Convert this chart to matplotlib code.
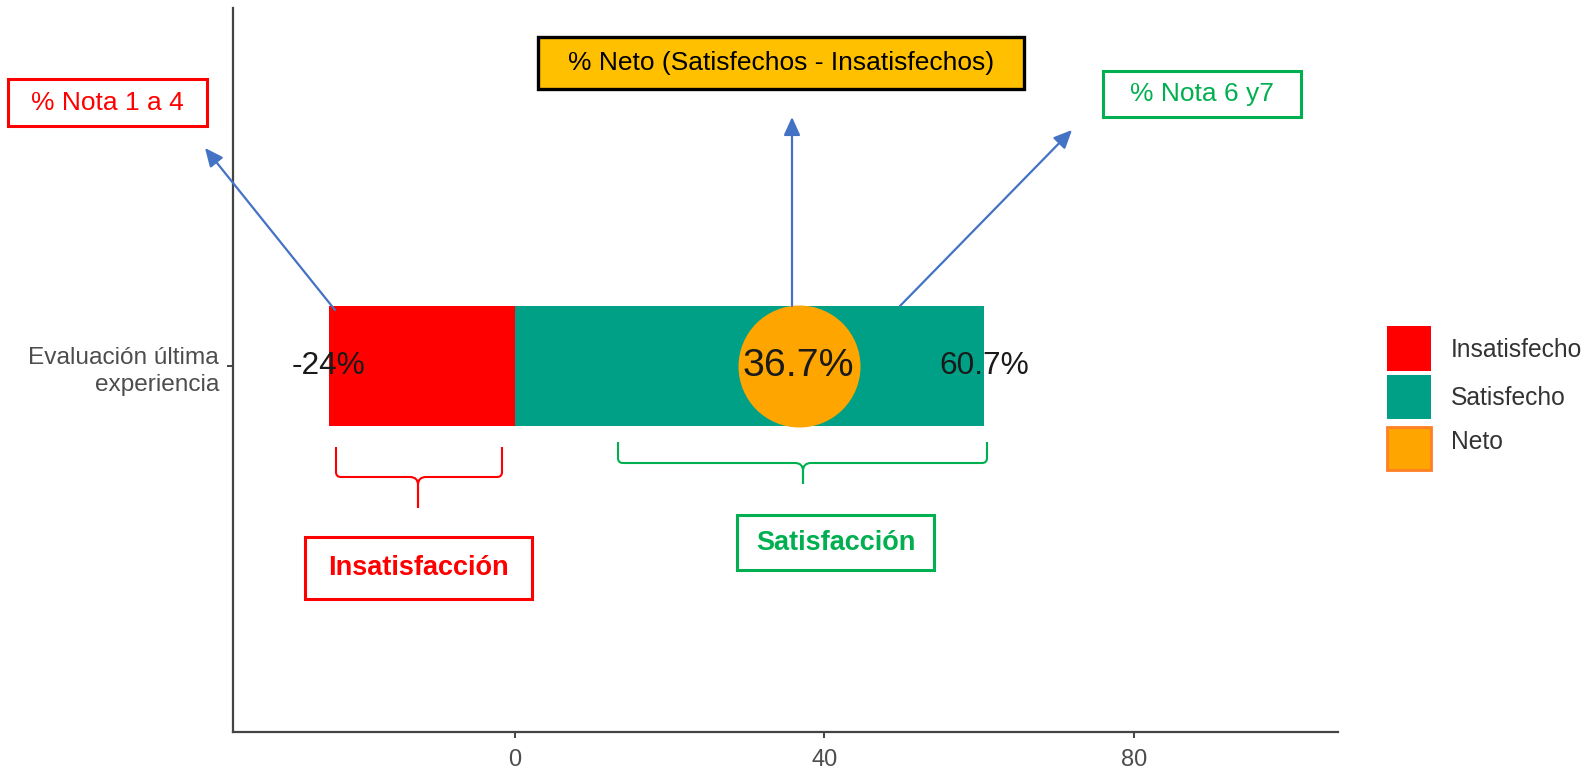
import matplotlib
matplotlib.use("Agg")
import matplotlib.pyplot as plt
from matplotlib.transforms import Affine2D
from matplotlib.patches import Rectangle, FancyArrowPatch, PathPatch
from matplotlib.path import Path

# ---- data ----
category = ["Evaluación última\nexperiencia"]
insatisfecho = [-24.0]
satisfecho = [60.7]
neto = [36.7]
legend_labels = ["Insatisfecho", "Satisfecho", "Neto"]
x_ticks = [0, 40, 80]

RED = "#FF0000"
TEAL = "#00A087"
ORANGE = "#FFA500"
GREEN = "#00B050"
BLUE = "#4472C4"

W, H, DPI = 1589, 768, 100
plt.rcParams["font.family"] = ["Liberation Sans", "DejaVu Sans"]

fig = plt.figure(figsize=(W / DPI, H / DPI), dpi=DPI)
ax = fig.add_axes([233 / W, 1 - 732 / H, (1338 - 233) / W, (732 - 8) / H])

# pixel coordinates (origin top-left) for callouts
px = Affine2D().scale(1 / W, -1 / H).translate(0, 1) + fig.transFigure

ypos = [1]
ax.barh(ypos, insatisfecho, height=0.2, color=RED, zorder=2)
ax.barh(ypos, satisfecho, height=0.2, color=TEAL, zorder=2)
ax.scatter(neto, ypos, s=(122 * 72 / DPI) ** 2, color=ORANGE, zorder=3, linewidths=0)

for v in insatisfecho + satisfecho:
    ax.text(v, 1, f"{v:g}%", ha="center", va="center", fontsize=22.8,
            color="#1a1a1a", zorder=4)
for v in neto:
    ax.text(v, 1, f"{v:g}%", ha="center", va="center", fontsize=28.3,
            color="#1a1a1a", zorder=4)

ax.set_xlim(-36.4, 106.4)
ax.set_ylim(0.3934, 1.5934)
ax.set_xticks(x_ticks)
ax.set_xticklabels([str(t) for t in x_ticks], fontsize=17, color="#4d4d4d")
ax.set_yticks(ypos)
ax.set_yticklabels(category, fontsize=17.6, color="#4d4d4d", linespacing=1.3)
ax.tick_params(axis="both", length=4, width=1.4, color="#444444")
ax.tick_params(axis="x", pad=8)
ax.tick_params(axis="y", pad=6)
for s in ("top", "right"):
    ax.spines[s].set_visible(False)
for s in ("left", "bottom"):
    ax.spines[s].set_color("#444444")
    ax.spines[s].set_linewidth(1.6)

# legend: colour keys and labels
keys = [(RED, "none", 0, 326, 370.7),
        (TEAL, "none", 0, 375, 419),
        (ORANGE, "#FF7F24", 2.0, 427, 470)]
label_y = [350, 398, 442]
for (fc, ec, lw, y0, y1), lab, ly in zip(keys, legend_labels, label_y):
    fig.add_artist(Rectangle((1387, y1), 44, y0 - y1, transform=px,
                             facecolor=fc, edgecolor=ec, linewidth=lw))
    fig.text(1451, ly, lab, transform=px, ha="left", va="center",
             fontsize=17.7, color="#333333")


def box(x0, y0, x1, y1, text, edge, lw, color, face="white", size=19,
        weight="normal"):
    fig.add_artist(Rectangle((x0, y1), x1 - x0, y0 - y1, transform=px,
                             facecolor=face, edgecolor=edge, linewidth=lw))
    fig.text((x0 + x1) / 2, (y0 + y1) / 2, text, transform=px, ha="center",
             va="center", fontsize=size, color=color, weight=weight)


box(8, 79, 207, 126, "% Nota 1 a 4", RED, 2.2, RED)
box(538, 37, 1024, 89, "% Neto (Satisfechos - Insatisfechos)", "black", 2.4,
    "black", face="#FFC000")
box(1103, 71, 1301, 117, "% Nota 6 y7", GREEN, 2.2, GREEN)
box(305, 537, 532, 599, "Insatisfacción", RED, 2.2, RED, size=19.5,
    weight="bold")
box(737, 515, 934, 570, "Satisfacción", GREEN, 2.2, GREEN, size=19.5,
    weight="bold")

# arrows
for (xa, ya), (xb, yb) in [((335, 310), (205, 148)),
                           ((792, 306), (792, 117)),
                           ((900, 306), (1072, 130))]:
    fig.add_artist(FancyArrowPatch((xa, ya), (xb, yb), transform=px,
                                   arrowstyle="-|>,head_length=11,head_width=5",
                                   mutation_scale=1, shrinkA=0, shrinkB=0,
                                   color=BLUE, linewidth=1.6))


def brace(x0, x1, yt, ym, yb, xc, color, r=5, rc=8):
    verts, codes = [], []
    for xe, sgn in ((x0, 1), (x1, -1)):
        verts += [(xe, yt), (xe, ym - r), (xe, ym), (xe + sgn * r, ym),
                  (xc - sgn * rc, ym), (xc, ym), (xc, ym + rc), (xc, yb)]
        codes += [Path.MOVETO, Path.LINETO, Path.CURVE3, Path.CURVE3,
                  Path.LINETO, Path.CURVE3, Path.CURVE3, Path.LINETO]
    fig.add_artist(PathPatch(Path(verts, codes), transform=px, fill=False,
                             edgecolor=color, linewidth=1.5))


brace(336, 502, 447, 477, 508, 418, RED)
brace(618, 987, 442, 463, 484, 803, GREEN)

fig.savefig("out.png", dpi=DPI)
